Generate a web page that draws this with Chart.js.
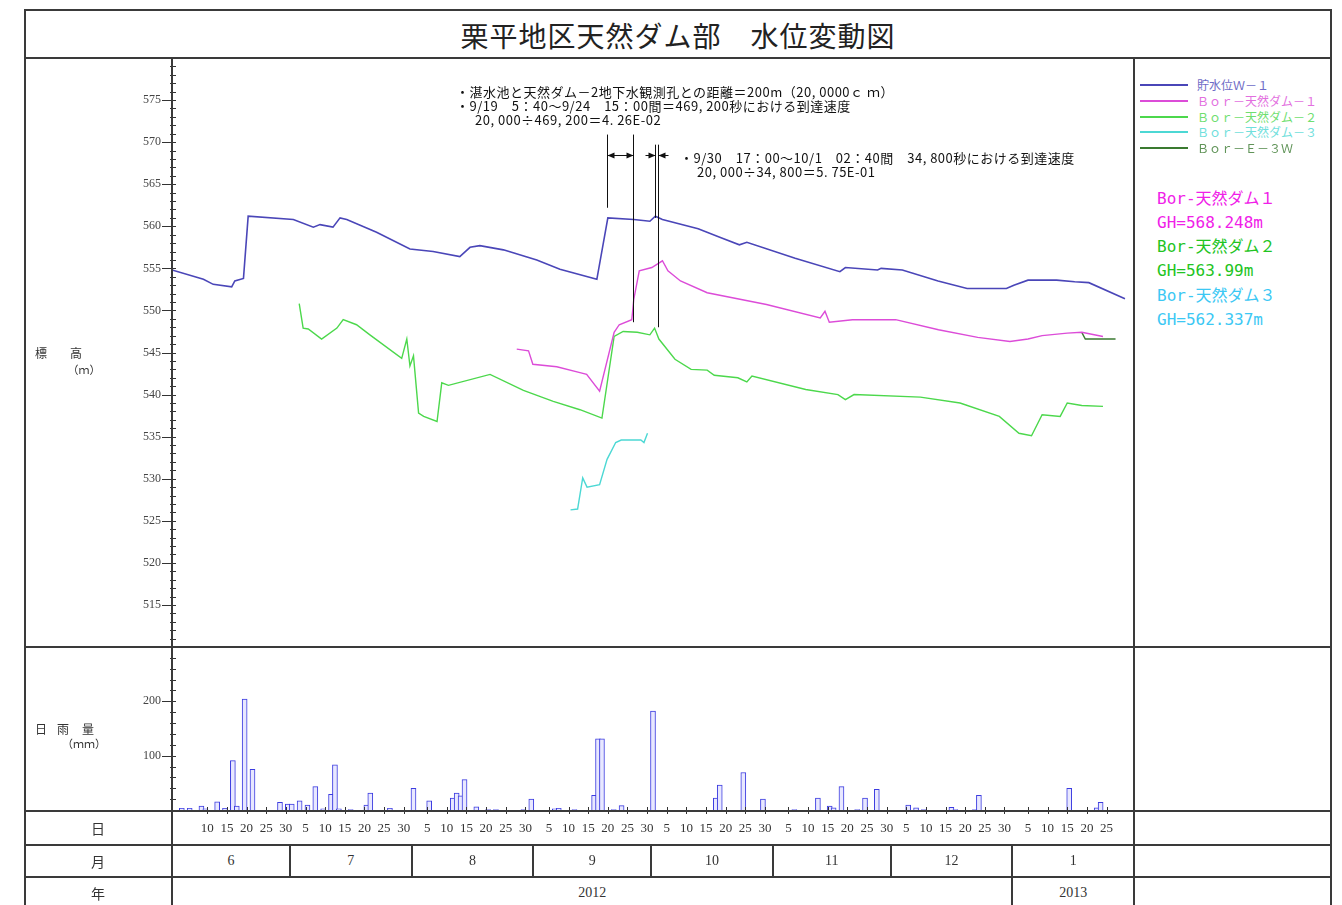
<!DOCTYPE html>
<html lang="ja">
<head>
<meta charset="utf-8">
<title>栗平地区天然ダム部 水位変動図</title>
<script src="https://cdn.jsdelivr.net/npm/chart.js@4.4.1/dist/chart.umd.min.js"></script>
<style>
  body { margin: 0; background: #fff; }
  #page { position: relative; width: 1342px; height: 905px; overflow: hidden; color: #333;
          font-family: "Liberation Serif", "Noto Sans CJK JP", serif; }
  .ln { position: absolute; background: #3a3a3a; }
  .tx { position: absolute; white-space: nowrap; line-height: 1; }
  .c { transform: translate(-50%, -50%); }
  .m { transform: translateY(-50%); }
  .jp { font-family: "Noto Sans CJK JP", sans-serif; }
  .note { font-size: 13px; color: #111; letter-spacing: 0.5px; }
  .gh { font-family: "DejaVu Sans Mono", "Noto Sans CJK JP", monospace; font-size: 16px; }
  canvas { position: absolute; left: 0; }
</style>
</head>
<body>
<div id="page">
  <canvas id="level" width="1134" height="589" style="top:58px"></canvas>
  <canvas id="rain" width="1134" height="200" style="top:647px"></canvas>

  <!-- frame -->
  <div class="ln" style="left:25px;top:9px;width:1307px;height:2px"></div>
  <div class="ln" style="left:24px;top:9px;width:2px;height:896px"></div>
  <div class="ln" style="left:1330px;top:9px;width:2px;height:896px"></div>
  <div class="ln" style="left:25px;top:57px;width:1306px;height:2px"></div>
  <div class="ln" style="left:25px;top:646px;width:1306px;height:2px"></div>
  <div class="ln" style="left:25px;top:810px;width:1306px;height:2px"></div>
  <div class="ln" style="left:25px;top:844px;width:1306px;height:2px"></div>
  <div class="ln" style="left:25px;top:876px;width:1306px;height:2px"></div>
  <div class="ln" style="left:171px;top:58px;width:2px;height:847px"></div>
  <div class="ln" style="left:1133px;top:58px;width:2px;height:847px"></div>

  <div class="tx c jp" style="left:678px;top:35px;font-size:28px;letter-spacing:1px;color:#222">栗平地区天然ダム部　水位変動図</div>

  <div class="tx c jp" style="left:41px;top:353px;font-size:12px">標</div>
  <div class="tx c jp" style="left:76px;top:353px;font-size:12px">高</div>
  <div class="tx c jp" style="left:84px;top:369px;font-size:11px">（ｍ）</div>
  <div class="tx c jp" style="left:41px;top:729px;font-size:12px">日</div>
  <div class="tx c jp" style="left:63px;top:729px;font-size:12px">雨</div>
  <div class="tx c jp" style="left:88px;top:729px;font-size:12px">量</div>
  <div class="tx c jp" style="left:84px;top:743px;font-size:11px">（ｍｍ）</div>
  <div class="tx c jp" style="left:98px;top:828px;font-size:14px">日</div>
  <div class="tx c jp" style="left:98px;top:861px;font-size:14px">月</div>
  <div class="tx c jp" style="left:98px;top:893px;font-size:14px">年</div>

  <div class="tx m jp note" style="left:456px;top:91px">・湛水池と天然ダム－2地下水観測孔との距離＝200m（20, 0000ｃ ｍ）</div>
  <div class="tx m jp note" style="left:456px;top:105px">・9/19　5：40～9/24　15：00間＝469, 200秒における到達速度</div>
  <div class="tx m jp note" style="left:475px;top:119px">20, 000÷469, 200＝4. 26E-02</div>
  <div class="tx m jp note" style="left:680px;top:157px">・9/30　17：00～10/1　02：40間　34, 800秒における到達速度</div>
  <div class="tx m jp note" style="left:697px;top:171px">20, 000÷34, 800＝5. 75E-01</div>

  <div class="tx m gh" style="left:1157px;top:199px;color:#f020e8">Bor-天然ダム１</div>
  <div class="tx m gh" style="left:1157px;top:223px;color:#f020e8">GH=568.248m</div>
  <div class="tx m gh" style="left:1157px;top:247px;color:#22c422">Bor-天然ダム２</div>
  <div class="tx m gh" style="left:1157px;top:271px;color:#22c422">GH=563.99m</div>
  <div class="tx m gh" style="left:1157px;top:296px;color:#3cc8f4">Bor-天然ダム３</div>
  <div class="tx m gh" style="left:1157px;top:320px;color:#3cc8f4">GH=562.337m</div>
</div>
<script>
// x values are days counted from 2012-06-01 (0 = start of 6/1)
var months = ['6', '7', '8', '9', '10', '11', '12', '1'];
var monthDays = [30, 31, 31, 30, 31, 30, 31, 31];
var years = ['2012', '2013'];
var yearMonths = [7, 1];

var dayTicks = ['6/10', '6/15', '6/20', '6/25', '6/30',
    '7/5', '7/10', '7/15', '7/20', '7/25', '7/30',
    '8/5', '8/10', '8/15', '8/20', '8/25', '8/30',
    '9/5', '9/10', '9/15', '9/20', '9/25', '9/30',
    '10/5', '10/10', '10/15', '10/20', '10/25', '10/30',
    '11/5', '11/10', '11/15', '11/20', '11/25', '11/30',
    '12/5', '12/10', '12/15', '12/20', '12/25', '12/30',
    '1/5', '1/10', '1/15', '1/20', '1/25'];

// 貯水位W-1
var w1Day = [0, 8, 10.5, 15.2, 16, 18.2, 19.4, 30.9, 36, 37.7, 41, 42.8, 44.5, 52.1, 60.6, 66.5, 73.3, 75.9, 78.4, 84.4,
    92.9, 98.8, 108.2, 111, 117.6, 121.7, 123.1, 124.9, 134, 139.5, 144.5, 146.4, 158.7, 170.1, 171.5, 179.7, 180.6,
    186, 195.1, 202.5, 212.5, 214.4, 218, 225.3, 229.9, 233.5, 242.7];
var w1Level = [554.8, 553.7, 553.1, 552.8, 553.5, 553.8, 561.2, 560.8, 559.9, 560.2, 559.9, 561.0, 560.8, 559.3, 557.3,
    557.0, 556.4, 557.5, 557.7, 557.2, 556.0, 554.9, 553.7, 561.0, 560.8, 560.6, 561.2, 560.8, 559.7, 558.7, 557.8,
    558.1, 556.2, 554.6, 555.1, 554.8, 555.0, 554.8, 553.5, 552.6, 552.6, 553.0, 553.6, 553.6, 553.4, 553.3, 551.4];

// Bor-天然ダム-1
var d1Day = [87.8, 90.8, 91.9, 98, 103.9, 105.6, 108.9, 112.6, 113.9, 117.1, 117.6, 119, 122.2, 124.9, 126.3, 129.5,
    136.3, 151.4, 165.1, 166.3, 167.4, 173.3, 184.3, 195.2, 205.2, 213.4, 218, 221.6, 228, 231.7, 237.1];
var d1Level = [545.4, 545.2, 543.6, 543.3, 542.6, 542.4, 540.4, 547.4, 548.3, 548.9, 551.3, 554.7, 555.1, 555.9, 554.7,
    553.5, 552.1, 550.7, 549.1, 549.9, 548.6, 548.9, 548.9, 547.7, 546.8, 546.3, 546.6, 547.0, 547.3, 547.4, 546.9];

// Bor-天然ダム-2
var d2Day = [32.4, 33.4, 34.7, 38.1, 42, 43.6, 47, 50.4, 58.5, 59.8, 60.6, 61.5, 62.8, 64.1, 67.5, 68.7, 70.4, 81, 89.5,
    97.1, 103.9, 109.5, 112.6, 114.9, 118.5, 121.7, 122.9, 124, 128.1, 132.2, 136.3, 138.1, 144.1, 146.4, 147.7, 161.4,
    169.6, 171.5, 173.7, 190.6, 200.7, 210.7, 215.7, 218.9, 221.6, 226.2, 228, 231.7, 237.1];
var d2Level = [550.8, 547.9, 547.8, 546.6, 547.9, 548.9, 548.3, 547.1, 544.3, 546.6, 543.4, 544.6, 537.8, 537.4, 536.8,
    541.4, 541.1, 542.4, 540.5, 539.2, 538.2, 537.2, 546.9, 547.5, 547.4, 547.1, 547.9, 546.6, 544.2, 543.0, 542.9,
    542.3, 542.0, 541.5, 542.2, 540.6, 540.0, 539.4, 540.0, 539.7, 539.0, 537.4, 535.4, 535.1, 537.6, 537.4, 539.0,
    538.7, 538.6];

// Bor-天然ダム-3
var d3Day = [101.5, 103.3, 104.6, 105.7, 108.9, 110.8, 113.0, 114.4, 119.4, 120.2, 121.1];
var d3Level = [526.3, 526.4, 530.1, 529.0, 529.3, 532.3, 534.3, 534.6, 534.6, 534.3, 535.4];

// Bor-E-3W
var e3Day = [231.7, 232.6, 240.3];
var e3Level = [547.4, 546.6, 546.6];

// 日雨量 (mm)
var rainDates = ['6/3', '6/5', '6/8', '6/9', '6/12', '6/14', '6/16', '6/17', '6/19', '6/21', '6/28', '6/30',
    '7/1', '7/3', '7/5', '7/7', '7/9', '7/11', '7/12', '7/13', '7/16', '7/20', '7/21', '7/26',
    '8/1', '8/5', '8/11', '8/12', '8/13', '8/14', '8/17', '8/20', '8/22', '8/29', '8/31',
    '9/6', '9/7', '9/11', '9/16', '9/17', '9/18', '9/21', '9/23',
    '10/1', '10/17', '10/18', '10/24', '10/29',
    '11/6', '11/12', '11/15', '11/16', '11/18', '11/22', '11/24', '11/27',
    '12/5', '12/7', '12/9', '12/16', '12/17', '12/22', '12/23',
    '1/15', '1/22', '1/23'];
var rainMm = [3, 3, 7, 2, 15, 3, 91, 7, 204, 75, 14, 11,
    11, 17, 9, 43, 2, 29, 83, 2, 1, 9, 31, 3,
    40, 17, 22, 31, 26, 56, 6, 1, 1, 1, 20,
    2, 3, 1, 27, 131, 131, 1, 8,
    182, 22, 46, 69, 20,
    1, 22, 7, 4, 43, 1, 22, 38,
    9, 4, 1, 5, 1, 1, 27,
    40, 4, 14];

// 到達速度の計測区間 (days) and line extents (m)
var eventDays = [110.8, 117.4, 123.0, 123.8];
var eventTop = [570.9, 570.9, 569.7, 569.7];
var eventBottom = [562.2, 548.6, 561.0, 548.0];
var arrowLevel = 568.5;

var monthStart = [];
monthDays.reduce(function(sum, n) { monthStart.push(sum); return sum + n; }, 0);
var totalDays = monthStart[monthStart.length - 1] + monthDays[monthDays.length - 1];

function dayOf(md) {
    var p = md.split('/');
    return monthStart[months.indexOf(p[0])] + Number(p[1]) - 1;
}

function series(label, days, levels, color, width) {
    return {
        label: label,
        data: days.map(function(d, i) { return { x: d, y: levels[i] }; }),
        borderColor: color,
        borderWidth: width || 1.4,
        pointRadius: 0,
        tension: 0,
        fill: false
    };
}

// fixed axis box, no extra padding so the plot area fills the frame cell
function fixWidth(s) { s.width = 172; s.paddingTop = 0; s.paddingBottom = 0; }
function fixHeight(s) { s.height = 37; s.paddingLeft = 0; s.paddingRight = 0; }

var axisTicks = {
    id: 'axisTicks',
    afterDraw: function(chart, args, opts) {
        var ctx = chart.ctx, y = chart.scales.y, area = chart.chartArea;
        ctx.save();
        ctx.strokeStyle = '#333';
        ctx.lineWidth = 1;
        ctx.beginPath();
        for (var v = y.min; v <= y.max; v += opts.minor) {
            var py = Math.round(y.getPixelForValue(v)) + 0.5;
            var major = v % opts.major === 0 && v > y.min && v < y.max;
            ctx.moveTo(area.left - (major ? 10 : 2), py);
            ctx.lineTo(area.left + 4, py);
        }
        if (opts.xTicks) {
            chart.scales.x.ticks.forEach(function(t) {
                var px = Math.round(chart.scales.x.getPixelForValue(t.value)) + 0.5;
                ctx.moveTo(px, area.bottom - 3);
                ctx.lineTo(px, area.bottom + 4);
            });
        }
        ctx.stroke();
        ctx.restore();
    }
};

function arrowHead(ctx, tipX, y, dir) {
    ctx.beginPath();
    ctx.moveTo(tipX, y);
    ctx.lineTo(tipX - dir * 7, y - 3);
    ctx.lineTo(tipX - dir * 7, y + 3);
    ctx.closePath();
    ctx.fill();
}

var eventMarks = {
    id: 'eventMarks',
    afterDatasetsDraw: function(chart) {
        var ctx = chart.ctx, x = chart.scales.x, y = chart.scales.y;
        var X = function(d) { return Math.round(x.getPixelForValue(d)) + 0.5; };
        ctx.save();
        ctx.strokeStyle = '#111';
        ctx.fillStyle = '#111';
        ctx.lineWidth = 1;
        ctx.beginPath();
        eventDays.forEach(function(d, i) {
            ctx.moveTo(X(d), y.getPixelForValue(eventTop[i]));
            ctx.lineTo(X(d), y.getPixelForValue(eventBottom[i]));
        });
        var ay = Math.round(y.getPixelForValue(arrowLevel)) + 0.5;
        ctx.moveTo(X(eventDays[0]), ay);
        ctx.lineTo(X(eventDays[1]), ay);
        ctx.moveTo(X(eventDays[2] - 2.6), ay);
        ctx.lineTo(X(eventDays[2]), ay);
        ctx.moveTo(X(eventDays[3] + 2.6), ay);
        ctx.lineTo(X(eventDays[3]), ay);
        ctx.stroke();
        arrowHead(ctx, X(eventDays[0]), ay, -1);
        arrowHead(ctx, X(eventDays[1]), ay, 1);
        arrowHead(ctx, X(eventDays[2]), ay, 1);
        arrowHead(ctx, X(eventDays[3]), ay, -1);
        ctx.restore();
    }
};

var tickFont = { family: 'Liberation Serif', size: 12 };

var levelChart = new Chart(document.getElementById('level'), {
    type: 'line',
    data: {
        datasets: [
            series('貯水位Ｗ－１', w1Day, w1Level, '#4a46b8', 1.6),
            series('Ｂｏｒ－天然ダム－１', d1Day, d1Level, '#dc4cd8'),
            series('Ｂｏｒ－天然ダム－２', d2Day, d2Level, '#4cd84c'),
            series('Ｂｏｒ－天然ダム－３', d3Day, d3Level, '#4cd8d4'),
            series('Ｂｏｒ－Ｅ－３Ｗ', e3Day, e3Level, '#3a7a30')
        ]
    },
    options: {
        responsive: false,
        animation: false,
        devicePixelRatio: 1,
        layout: { padding: 0, autoPadding: false },
        plugins: {
            legend: { display: false },
            tooltip: { enabled: false },
            axisTicks: { minor: 1, major: 5 }
        },
        scales: {
            x: { type: 'linear', min: 0, max: totalDays, display: false },
            y: {
                min: 510, max: 580,
                afterFit: fixWidth,
                grid: { display: false, drawTicks: true, tickLength: 11 },
                border: { display: false },
                ticks: {
                    stepSize: 5, padding: 0, color: '#444', font: tickFont,
                    callback: function(v) { return v > 510 && v < 580 ? v : null; }
                }
            }
        }
    },
    plugins: [axisTicks, eventMarks]
});

var rainChart = new Chart(document.getElementById('rain'), {
    type: 'bar',
    data: {
        datasets: [{
            label: '日雨量',
            data: rainDates.map(function(d, i) { return { x: dayOf(d) + 0.5, y: rainMm[i] }; }),
            backgroundColor: '#e8e8ff',
            borderColor: '#3c3ce0',
            borderWidth: 1,
            barThickness: 5
        }]
    },
    options: {
        responsive: false,
        animation: false,
        devicePixelRatio: 1,
        layout: { padding: 0, autoPadding: false },
        plugins: {
            legend: { display: false },
            tooltip: { enabled: false },
            axisTicks: { minor: 20, major: 100, xTicks: true }
        },
        scales: {
            x: {
                type: 'linear', min: 0, max: totalDays, offset: false,
                afterFit: fixHeight,
                afterBuildTicks: function(s) {
                    s.ticks = dayTicks.map(function(t) { return { value: dayOf(t) }; });
                },
                grid: { display: false, drawTicks: false },
                border: { display: false },
                ticks: {
                    autoSkip: false, maxRotation: 0, padding: 11, color: '#333',
                    font: { family: 'Liberation Serif', size: 13 },
                    callback: function(v, i) { return dayTicks[i].split('/')[1]; }
                }
            },
            y: {
                min: 0, max: 300,
                afterFit: fixWidth,
                grid: { display: false, drawTicks: true, tickLength: 11 },
                border: { display: false },
                ticks: {
                    stepSize: 100, padding: 0, color: '#444', font: tickFont,
                    callback: function(v) { return v === 100 || v === 200 ? v : null; }
                }
            }
        }
    },
    plugins: [axisTicks]
});

// month / year rows, placed with the rain chart's x scale
var page = document.getElementById('page');
function addEl(cls, style, text) {
    var el = document.createElement('div');
    el.className = cls;
    el.setAttribute('style', style);
    if (text) el.textContent = text;
    page.appendChild(el);
}
var xs = rainChart.scales.x;
months.forEach(function(m, i) {
    var a = xs.getPixelForValue(monthStart[i]);
    var b = xs.getPixelForValue(monthStart[i] + monthDays[i]);
    addEl('tx c', 'left:' + (a + b) / 2 + 'px;top:861px;font-size:14px', m);
    if (i > 0) addEl('ln', 'left:' + (Math.round(a) - 1) + 'px;top:845px;width:2px;height:32px');
});
var mi = 0;
years.forEach(function(yr, i) {
    var a = xs.getPixelForValue(monthStart[mi]);
    mi += yearMonths[i];
    var b = mi < months.length ? xs.getPixelForValue(monthStart[mi]) : xs.getPixelForValue(totalDays);
    addEl('tx c', 'left:' + (a + b) / 2 + 'px;top:893px;font-size:14px', yr);
    if (i > 0) addEl('ln', 'left:' + (Math.round(a) - 1) + 'px;top:877px;width:2px;height:28px');
});

// legend from the level datasets
levelChart.data.datasets.forEach(function(ds, i) {
    var top = [85, 101, 117, 132, 148][i];
    addEl('ln', 'left:1140px;top:' + (top - 1) + 'px;width:48px;height:2px;background:' + ds.borderColor);
    addEl('tx m jp', 'left:1197px;top:' + top + 'px;font-size:12px;opacity:0.8;color:' + ds.borderColor, ds.label);
});
</script>
</body>
</html>
